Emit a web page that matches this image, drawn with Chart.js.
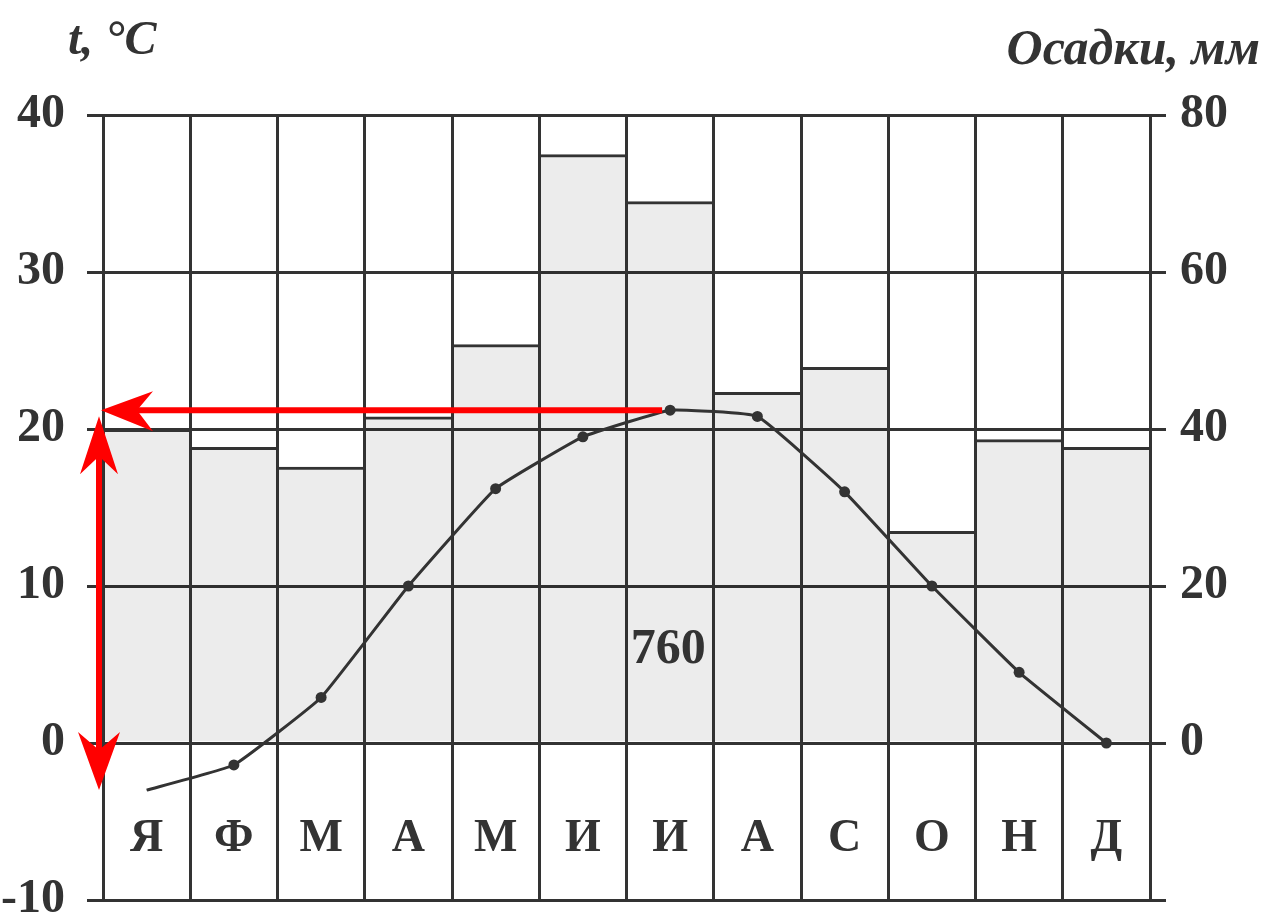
<!DOCTYPE html>
<html>
<head>
<meta charset="utf-8">
<script src="https://cdn.jsdelivr.net/npm/chart.js@4.4.1/dist/chart.umd.min.js"></script>
<style>
  html, body { margin: 0; padding: 0; background: #ffffff; }
  #wrap { width: 1270px; height: 919px; position: relative; }
</style>
</head>
<body>
<div id="wrap"><canvas id="c"></canvas></div>
<script>
// ---- data ----
const months = ['Я', 'Ф', 'М', 'А', 'М', 'И', 'И', 'А', 'С', 'О', 'Н', 'Д'];
const temperature = [-3, -1.4, 2.9, 10, 16.2, 19.5, 21.2, 20.8, 16, 10, 4.5, 0];   // °C
const precipitation = [40, 37.7, 35.2, 41.6, 50.8, 75, 69, 44.7, 47.9, 27, 38.7, 37.7]; // mm
const annualTotal = '760';
const tempTitle = 't, °C';
const precTitle = 'Осадки, мм';

const INK = '#333333';
const SERIF = '"Liberation Serif", "DejaVu Serif", serif';

const overlay = {
  id: 'overlay',
  afterDatasetsDraw(chart) {
    const ctx = chart.ctx;
    const xs = chart.scales.x, ys = chart.scales.y;
    const area = chart.chartArea;
    ctx.save();
    // month labels inside plot
    ctx.fillStyle = INK;
    ctx.font = 'bold 46px ' + SERIF;
    ctx.textAlign = 'center';
    ctx.textBaseline = 'middle';
    months.forEach((m, i) => {
      ctx.fillText(m, xs.getPixelForValue(i), ys.getPixelForValue(-6.1));
    });
    // annual total
    ctx.font = 'bold 50px ' + SERIF;
    ctx.fillText(annualTotal, xs.getPixelForValue(6) - 2, ys.getPixelForValue(5.9));

    // axis titles
    ctx.font = 'italic bold 48px ' + SERIF;
    ctx.textAlign = 'left';
    ctx.textBaseline = 'alphabetic';
    ctx.fillText(tempTitle, 68, 54);
    ctx.font = 'italic bold 50px ' + SERIF;
    ctx.textAlign = 'right';
    ctx.fillText(precTitle, 1260, 64);

    // red arrows
    const maxT = Math.max(...temperature), minT = Math.min(...temperature);
    const iMax = temperature.indexOf(maxT);
    const yTop = ys.getPixelForValue(maxT);
    const yBot = ys.getPixelForValue(minT);
    const xLeft = area.left - 2;
    const xRight = xs.getPixelForValue(iMax) - 8;
    ctx.strokeStyle = '#ff0000';
    ctx.fillStyle = '#ff0000';
    ctx.lineWidth = 6;
    ctx.lineCap = 'butt';
    // horizontal
    ctx.beginPath();
    ctx.moveTo(xRight, yTop);
    ctx.lineTo(xLeft + 30, yTop);
    ctx.stroke();
    ctx.beginPath();
    ctx.moveTo(xLeft, yTop);
    ctx.lineTo(xLeft + 52, yTop - 19);
    ctx.lineTo(xLeft + 36, yTop);
    ctx.lineTo(xLeft + 52, yTop + 21);
    ctx.closePath();
    ctx.fill();
    // vertical
    const xv = area.left - 4;
    const vTop = yTop + 6;
    ctx.beginPath();
    ctx.moveTo(xv, vTop + 30);
    ctx.lineTo(xv, yBot - 30);
    ctx.stroke();
    ctx.beginPath();
    ctx.moveTo(xv, vTop);
    ctx.lineTo(xv - 19, vTop + 58);
    ctx.lineTo(xv, vTop + 40);
    ctx.lineTo(xv + 19, vTop + 58);
    ctx.closePath();
    ctx.fill();
    ctx.beginPath();
    ctx.moveTo(xv, yBot);
    ctx.lineTo(xv - 21, yBot - 58);
    ctx.lineTo(xv, yBot - 40);
    ctx.lineTo(xv + 21, yBot - 58);
    ctx.closePath();
    ctx.fill();
    ctx.restore();
  }
};

new Chart(document.getElementById('c'), {
  data: {
    labels: months,
    datasets: [
      {
        type: 'line',
        data: temperature,
        yAxisID: 'y',
        borderColor: INK,
        borderWidth: 3,
        tension: 0.1,
        pointRadius: temperature.map((v, i) => i === 0 ? 0 : 5.5),
        pointBackgroundColor: INK,
        pointBorderWidth: 0,
        order: 0
      },
      {
        type: 'bar',
        data: precipitation,
        yAxisID: 'y1',
        backgroundColor: 'rgba(0,0,0,0.075)',
        borderColor: INK,
        borderWidth: { top: 3, left: 0, right: 0, bottom: 0 },
        borderSkipped: false,
        categoryPercentage: 1,
        barPercentage: 0.98,
        order: 1
      }
    ]
  },
  options: {
    responsive: true,
    maintainAspectRatio: false,
    animation: false,
    layout: { padding: { top: 115, left: 0, right: 0, bottom: 0 } },
    plugins: { legend: { display: false }, tooltip: { enabled: false } },
    scales: {
      x: {
        type: 'category',
        offset: true,
        grid: { offset: true, color: INK, lineWidth: 3, drawTicks: false },
        border: { display: false },
        ticks: { display: false },
        afterFit(s) { s.height = 19; }
      },
      y: {
        position: 'left',
        min: -10, max: 40,
        ticks: {
          stepSize: 10,
          padding: 22,
          color: INK,
          font: { family: SERIF, weight: 'bold', size: 48 },
          callback: v => v < 0 ? '-' + Math.abs(v) : String(v)
        },
        grid: { color: INK, lineWidth: 3, tickLength: 16 },
        border: { color: INK, width: 3 },
        afterFit(s) { s.width = 103; s.paddingTop = 0; s.paddingBottom = 0; }
      },
      y1: {
        position: 'right',
        min: -20, max: 80,
        ticks: {
          stepSize: 20,
          padding: 14,
          color: INK,
          font: { family: SERIF, weight: 'bold', size: 48 },
          callback: v => v < 0 ? '' : String(v)
        },
        grid: { drawOnChartArea: false, color: INK, lineWidth: 3, tickLength: 16 },
        border: { color: INK, width: 3 },
        afterFit(s) { s.width = 120; s.paddingTop = 0; s.paddingBottom = 0; }
      }
    }
  },
  plugins: [overlay]
});
</script>
</body>
</html>
